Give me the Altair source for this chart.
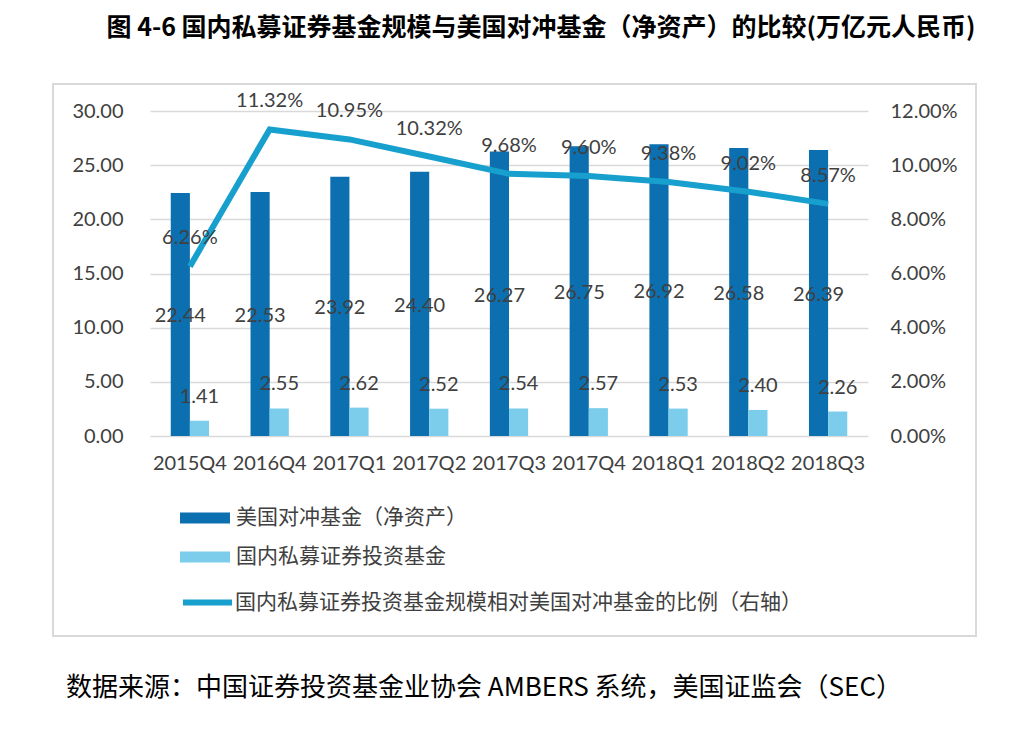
import altair as alt
import pandas as pd

categories = ["2015Q4", "2016Q4", "2017Q1", "2017Q2", "2017Q3", "2017Q4", "2018Q1", "2018Q2", "2018Q3"]
us_hedge = [22.44, 22.53, 23.92, 24.40, 26.27, 26.75, 26.92, 26.58, 26.39]
cn_private = [1.41, 2.55, 2.62, 2.52, 2.54, 2.57, 2.53, 2.40, 2.26]
ratio_pct = [6.26, 11.32, 10.95, 10.32, 9.68, 9.60, 9.38, 9.02, 8.57]

S_US = "美国对冲基金（净资产）"
S_CN = "国内私募证券投资基金"
S_RATIO = "国内私募证券投资基金规模相对美国对冲基金的比例（右轴）"
TITLE = "图 4-6 国内私募证券基金规模与美国对冲基金（净资产）的比较(万亿元人民币)"
SOURCE = "数据来源：中国证券投资基金业协会 AMBERS 系统，美国证监会（SEC）"

DARK = "#0B6FB0"
LIGHT = "#7BCDEB"
LINE = "#179FCD"
GRID = "#D9D9D9"
TXT = "#404040"
NUMFONT = "Lato"
CJK = "Noto Sans CJK SC"

bars_df = pd.DataFrame({
    "cat": categories * 2,
    "series": [S_US] * len(categories) + [S_CN] * len(categories),
    "value": us_hedge + cn_private,
})
ratio_df = pd.DataFrame({
    "cat": categories,
    "series": [S_RATIO] * len(categories),
    "ratio": [r / 100 for r in ratio_pct],
})
one = pd.DataFrame({"k": [0]})

x_enc = alt.X(
    "cat:N", sort=categories,
    scale=alt.Scale(paddingInner=0.52, paddingOuter=0.26),
    axis=alt.Axis(title=None, labelAngle=0, ticks=False, domain=False, labelPadding=17,
                  labelFontSize=20, labelFont=NUMFONT, labelColor=TXT),
)
xoff = alt.XOffset("series:N", scale=alt.Scale(domain=[S_US, S_CN], paddingInner=0, paddingOuter=0))

left_axis = alt.Axis(title=None, orient="left", values=[0, 5, 10, 15, 20, 25, 30], format=".2f",
                     ticks=False, domain=False, gridColor=GRID, gridWidth=1.5, labelPadding=27,
                     labelFontSize=20, labelFont=NUMFONT, labelColor=TXT)
left_scale = alt.Scale(domain=[0, 30], nice=False)

right_axis = alt.Axis(title=None, orient="right", values=[0, 0.02, 0.04, 0.06, 0.08, 0.10, 0.12],
                      format=".2%", ticks=False, domain=False, grid=False, labelPadding=22,
                      labelFontSize=20, labelFont=NUMFONT, labelColor=TXT)
right_scale = alt.Scale(domain=[0, 0.12], nice=False)

bars = alt.Chart(bars_df).mark_bar().encode(
    x=x_enc,
    xOffset=xoff,
    y=alt.Y("value:Q", scale=left_scale, axis=left_axis),
    fill=alt.Fill("series:N", scale=alt.Scale(domain=[S_US, S_CN], range=[DARK, LIGHT]),
                  legend=alt.Legend(title=None, orient="none", legendX=30, legendY=382,
                                    symbolType="M-1,-0.22H1V0.22H-1Z", symbolSize=2500,
                                    symbolStrokeWidth=0, labelFont=CJK, labelFontSize=21,
                                    labelColor=TXT, labelOffset=6, rowPadding=4, padding=0,
                                    direction="vertical", labelLimit=800)),
)

us_text = alt.Chart(bars_df).transform_filter(
    alt.datum.series == S_US
).transform_calculate(mid="datum.value / 2").mark_text(
    font=NUMFONT, fontSize=20, color=TXT, baseline="middle", dy=2
).encode(
    x=x_enc, xOffset=xoff,
    y=alt.Y("mid:Q", scale=left_scale, axis=left_axis),
    text=alt.Text("value:Q", format=".2f"),
)

cn_text = alt.Chart(bars_df).transform_filter(
    alt.datum.series == S_CN
).mark_text(
    font=NUMFONT, fontSize=20, color=TXT, baseline="middle", dy=-24
).encode(
    x=x_enc, xOffset=xoff,
    y=alt.Y("value:Q", scale=left_scale, axis=left_axis),
    text=alt.Text("value:Q", format=".2f"),
)

line = alt.Chart(ratio_df).mark_line(strokeWidth=6).encode(
    x=x_enc,
    y=alt.Y("ratio:Q", scale=right_scale, axis=right_axis),
    stroke=alt.Stroke("series:N", scale=alt.Scale(domain=[S_RATIO], range=[LINE]),
                      legend=alt.Legend(title=None, orient="none", legendX=30, legendY=464,
                                        symbolType="stroke", symbolSize=2400,
                                        symbolStrokeWidth=6, labelFont=CJK, labelFontSize=21,
                                        labelColor=TXT, labelOffset=0, padding=0,
                                        labelLimit=800)),
)

ratio_text = alt.Chart(ratio_df).mark_text(
    font=NUMFONT, fontSize=20, color=TXT, baseline="middle", dy=-28
).encode(
    x=x_enc,
    y=alt.Y("ratio:Q", scale=right_scale, axis=right_axis),
    text=alt.Text("ratio:Q", format=".2%"),
)

border = alt.Chart(one).mark_rect(filled=False, stroke=GRID, strokeWidth=2).encode(
    x=alt.value(-97), x2=alt.value(826), y=alt.value(-27), y2=alt.value(525)
)

source = alt.Chart(one).mark_text(
    text=SOURCE, font=CJK, fontSize=26, color="#000000", align="left", baseline="middle"
).encode(x=alt.value(-84), y=alt.value(577))

left_layer = alt.layer(bars, us_text, cn_text)
right_layer = alt.layer(line, ratio_text)

chart = alt.layer(border, left_layer, right_layer, source).resolve_scale(
    y="independent"
).properties(
    width=718,
    height=325,
    autosize=alt.AutoSizeParams(type="none"),
    padding={"left": 142, "top": 103, "right": 140, "bottom": 270},
    title=alt.Title(text=TITLE, font=CJK, fontSize=25, fontWeight="bold", color="#000000",
                    anchor="middle", frame="group", dx=32, offset=42),
).configure_view(stroke=None)

chart.save("out.html", embed_options={"renderer": "svg", "actions": False})
